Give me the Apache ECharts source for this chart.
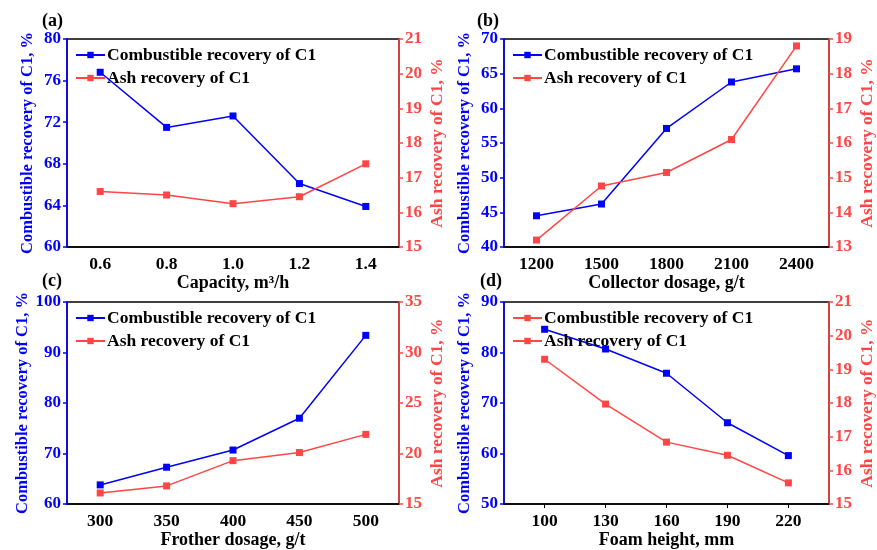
<!DOCTYPE html>
<html>
<head>
<meta charset="utf-8">
<script src="https://cdn.jsdelivr.net/npm/echarts@6.0.0/dist/echarts.min.js"></script>
<style>
body{margin:0;background:#fff;}
#main{width:877px;height:550px;}
</style>
</head>
<body>
<div id="main"></div>
<script>
// (a) capacity
var capacity=['0.6','0.8','1.0','1.2','1.4'];
var combA=[76.8,71.5,72.6,66.1,63.9];
var ashA=[16.6,16.5,16.25,16.45,17.4];
// (b) collector dosage
var collector=['1200','1500','1800','2100','2400'];
var combB=[44.5,46.2,57.1,63.8,65.7];
var ashB=[13.2,14.76,15.15,16.1,18.8];
// (c) frother dosage
var frother=['300','350','400','450','500'];
var combC=[63.8,67.3,70.7,77.0,93.4];
var ashC=[16.1,16.8,19.3,20.1,21.9];
// (d) foam height
var foam=[100,130,160,190,220];
var combD=[84.6,80.7,75.9,66.1,59.6];
var ashD=[19.3,17.97,16.84,16.45,15.63];

var BLUE='#0000ff';
var RED='#ff4545';
var FONT='Liberation Serif';
var combName='Combustible recovery of C1';
var ashName='Ash recovery of C1';

var grids=[
    {left:67,top:39,width:332,height:208},
    {left:504,top:39,width:332,height:208},
    {left:67,top:302,width:332,height:206},
    {left:504,top:302,width:332,height:206}
];

function yAx(idx,side,min,max,step,color,name){
    return {
        type:'value',gridIndex:idx,position:side,min:min,max:max,interval:step,
        name:name,nameLocation:'middle',nameGap:side=='left'?31:29,nameRotate:90,
        nameTextStyle:{color:color,fontSize:side=='left'?16.5:17.5,fontWeight:'bold',fontFamily:FONT},
        axisLine:{show:true,lineStyle:{color:color,width:1.5}},
        axisTick:{show:true,length:4,lineStyle:{color:color,width:1.5}},
        axisLabel:{color:color,fontSize:17,fontWeight:'bold',fontFamily:FONT,margin:6},
        splitLine:{show:false}
    };
}
function xCat(idx,data,name){
    return {
        type:'category',gridIndex:idx,data:data,boundaryGap:true,
        name:name,nameLocation:'middle',nameGap:23,
        nameTextStyle:{color:'#000',fontSize:18,fontWeight:'bold',fontFamily:FONT},
        axisLine:{lineStyle:{color:'#000',width:1.5}},
        axisTick:{alignWithLabel:true,length:4,lineStyle:{color:'#000'}},
        axisLabel:{color:'#000',fontSize:17.5,fontWeight:'bold',fontFamily:FONT,margin:8},
        splitLine:{show:false}
    };
}
function line(name,xi,yi,data,color){
    return {
        name:name,type:'line',xAxisIndex:xi,yAxisIndex:yi,data:data,
        symbol:'rect',symbolSize:7,showSymbol:true,
        itemStyle:{color:color},lineStyle:{color:color,width:1.5},
        animation:false
    };
}
function legend(idx,items){
    return {
        orient:'vertical',left:grids[idx].left+3,top:grids[idx].top+2,
        itemWidth:29,itemHeight:8,itemGap:5,
        textStyle:{color:'#000',fontSize:17.5,fontWeight:'bold',fontFamily:FONT,padding:[0,0,0,-3]},
        data:items
    };
}

var foamPairs=foam.map(function(v,i){return [v,combD[i]];});
var foamAsh=foam.map(function(v,i){return [v,ashD[i]];});

var yName1='Combustible recovery of C1, %';
var yName2='Ash recovery of C1, %';

var Myecharts=echarts.init(document.getElementById('main'));
var option={
    animation:false,
    grid:grids.map(function(g){
        return {left:g.left,top:g.top,width:g.width,height:g.height,show:true,borderColor:'#000',borderWidth:1.5,backgroundColor:'transparent'};
    }),
    xAxis:[
        xCat(0,capacity,'Capacity, m\u00b3/h'),
        xCat(1,collector,'Collector dosage, g/t'),
        xCat(2,frother,'Frother dosage, g/t'),
        {
            type:'value',gridIndex:3,min:80,max:240,
            name:'Foam height, mm',nameLocation:'middle',nameGap:23,
            nameTextStyle:{color:'#000',fontSize:18,fontWeight:'bold',fontFamily:FONT},
            axisLine:{lineStyle:{color:'#000',width:1.5}},
            axisTick:{show:true,length:4,customValues:foam,lineStyle:{color:'#000'}},
            axisLabel:{color:'#000',fontSize:17.5,fontWeight:'bold',fontFamily:FONT,margin:8,customValues:foam},
            splitLine:{show:false}
        }
    ],
    yAxis:[
        yAx(0,'left',60,80,4,BLUE,yName1),
        yAx(0,'right',15,21,1,RED,yName2),
        yAx(1,'left',40,70,5,BLUE,yName1),
        yAx(1,'right',13,19,1,RED,yName2),
        yAx(2,'left',60,100,10,BLUE,yName1),
        yAx(2,'right',15,35,5,RED,yName2),
        yAx(3,'left',50,90,10,BLUE,yName1),
        yAx(3,'right',15,21,1,RED,yName2)
    ],
    legend:[
        legend(0,[combName,ashName]),
        legend(1,[combName,ashName]),
        legend(2,[combName,ashName]),
        legend(3,[
            {name:combName,itemStyle:{color:RED},lineStyle:{color:RED}},
            {name:ashName}
        ])
    ],
    series:[
        line(combName,0,0,combA,BLUE),
        line(ashName,0,1,ashA,RED),
        line(combName,1,2,combB,BLUE),
        line(ashName,1,3,ashB,RED),
        line(combName,2,4,combC,BLUE),
        line(ashName,2,5,ashC,RED),
        line(combName,3,6,foamPairs,BLUE),
        line(ashName,3,7,foamAsh,RED)
    ],
    graphic:[
        {type:'text',left:42,top:12,style:{text:'(a)',fontSize:18,fontWeight:'bold',fontFamily:FONT,fill:'#000'}},
        {type:'text',left:477,top:12,style:{text:'(b)',fontSize:18,fontWeight:'bold',fontFamily:FONT,fill:'#000'}},
        {type:'text',left:42,top:272,style:{text:'(c)',fontSize:18,fontWeight:'bold',fontFamily:FONT,fill:'#000'}},
        {type:'text',left:480,top:272,style:{text:'(d)',fontSize:18,fontWeight:'bold',fontFamily:FONT,fill:'#000'}}
    ]
};
Myecharts.setOption(option);
</script>
</body>
</html>
